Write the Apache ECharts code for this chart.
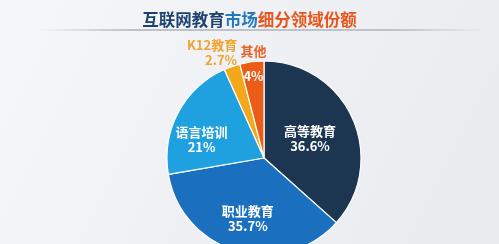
<!DOCTYPE html>
<html>
<head>
<meta charset="utf-8">
<script src="https://cdn.jsdelivr.net/npm/echarts@6/dist/echarts.min.js"></script>
<style>
html,body{margin:0;padding:0;background:#f1f2f4;}
#c{width:499px;height:244px;}
</style>
</head>
<body>
<div id="c"></div>
<script>
const titleParts = ['互联网教育', '市场', '细分领域份额'];
const categories = ['高等教育', '职业教育', '语言培训', 'K12教育', '其他'];
const shares = [36.6, 35.7, 21, 2.7, 4];
const valueLabels = ['36.6%', '35.7%', '21%', '2.7%', '4%'];

const colors = ['#1c3651', '#1a6fbf', '#1fa1df', '#f1a91b', '#eb5c16'];
const labelShift = [[-1, 2], [-2, 11], [-17, 6], [-35, -57], [-4, -43]];

const chart = echarts.init(document.getElementById('c'), null, {renderer: 'canvas'});

const data = categories.map((name, i) => {
  const item = {name: name, value: shares[i], itemStyle: {color: colors[i]}};
  if (i === 3) {
    item.label = {formatter: '{k|{b}}\n{k|' + valueLabels[i] + '}', align: 'right'};
  } else if (i === 4) {
    item.label = {formatter: '{n|{b}}\n{v|' + valueLabels[i] + '}'};
  } else {
    item.label = {formatter: '{w|{b}}\n{w|' + valueLabels[i] + '}'};
  }
  return item;
});

const font = '"Noto Sans CJK SC", "Noto Sans", sans-serif';

chart.setOption({
  backgroundColor: {
    type: 'linear', x: 0, y: 0, x2: 1, y2: 1,
    colorStops: [{offset: 0, color: '#f6f7f9'}, {offset: 0.5, color: '#eff0f3'}, {offset: 1, color: '#e9ebee'}]
  },
  title: {
    text: '{a|' + titleParts[0] + '}{b|' + titleParts[1] + '}{c|' + titleParts[2] + '}',
    left: 'center',
    top: 6,
    textStyle: {
      rich: {
        a: {fontSize: 16.5, fontWeight: 'bold', color: '#1e426f', fontFamily: font},
        b: {fontSize: 16.5, fontWeight: 'bold', color: '#2378be', fontFamily: font},
        c: {fontSize: 16.5, fontWeight: 'bold', color: '#e9561c', fontFamily: font}
      }
    }
  },
  graphic: [{
    type: 'rect',
    shape: {x: 40, y: 29, width: 445, height: 2},
    style: {
      fill: {
        type: 'linear', x: 0, y: 0, x2: 1, y2: 0,
        colorStops: [{offset: 0, color: 'rgba(190,195,202,0)'}, {offset: 0.2, color: 'rgba(190,195,202,1)'}, {offset: 0.8, color: 'rgba(190,195,202,1)'}, {offset: 1, color: 'rgba(190,195,202,0)'}]
      }
    },
    silent: true
  }],
  series: [{
    type: 'pie',
    center: [264, 158],
    radius: 97,
    startAngle: 90,
    clockwise: true,
    animation: false,
    itemStyle: {borderColor: '#ffffff', borderWidth: 1.2},
    label: {
      show: true,
      position: 'inside',
      fontFamily: font,
      rich: {
        w: {color: '#ffffff', fontSize: 13, fontWeight: 'bold', lineHeight: 15, fontFamily: font},
        k: {color: '#f0a52c', fontSize: 13, fontWeight: 'bold', lineHeight: 15, fontFamily: font, align: 'right'},
        n: {color: '#e8642a', fontSize: 13, fontWeight: 'bold', lineHeight: 25, fontFamily: font},
        v: {color: '#ffffff', fontSize: 13, fontWeight: 'bold', lineHeight: 25, fontFamily: font}
      }
    },
    labelLine: {show: false},
    labelLayout: function (p) {
      const s = labelShift[p.dataIndex];
      return {dx: s[0], dy: s[1]};
    },
    data: data
  }]
});
</script>
</body>
</html>
